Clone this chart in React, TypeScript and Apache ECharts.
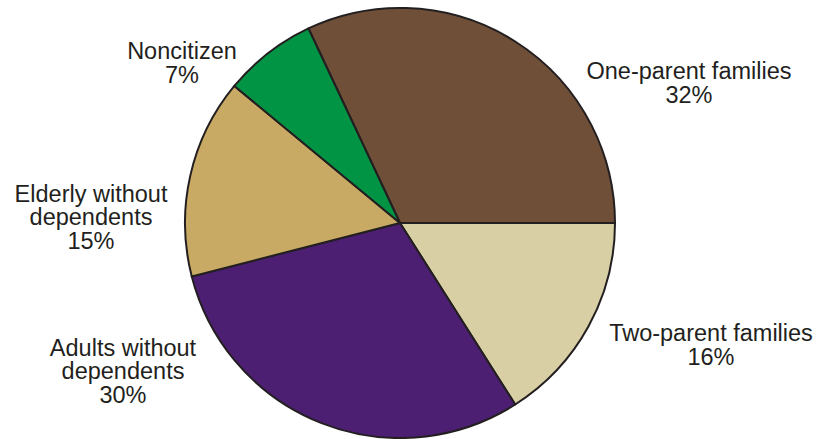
import React, { useEffect, useRef } from "react";
import * as echarts from "echarts";

const categories = [
  "One-parent families",
  "Two-parent families",
  "Adults without\ndependents",
  "Elderly without\ndependents",
  "Noncitizen",
];
const shares = [32, 16, 30, 15, 7];
const colors = ["#6F4F38", "#D9CFA5", "#4D1F73", "#C8AA64", "#009444"];

// label anchor points (layout only)
const labelPositions: [number, number][] = [
  [689, 83],
  [711, 345],
  [123, 371],
  [91, 217],
  [182, 63],
];

export default function App() {
  const ref = useRef<HTMLDivElement>(null);
  useEffect(() => {
    if (!ref.current) return;
    const chart = echarts.init(ref.current, undefined, { renderer: "svg" });
    chart.setOption({
      animation: false,
      backgroundColor: "#ffffff",
      series: [
        {
          type: "pie",
          center: [400, 223],
          radius: [0, 215],
          startAngle: 115.2,
          clockwise: true,
          avoidLabelOverlap: false,
          itemStyle: { borderColor: "#231F20", borderWidth: 2 },
          label: {
            show: true,
            position: "outside",
            formatter: (p: any) => `${p.name}\n${p.value}%`,
            fontFamily: "Liberation Sans, Arial, sans-serif",
            fontSize: 23.5,
            lineHeight: 23.5,
            color: "#231F20",
            align: "center",
          },
          labelLine: { show: false },
          labelLayout: (params: any) => {
            const p = labelPositions[params.dataIndex];
            return { x: p[0], y: p[1], align: "center", verticalAlign: "middle" };
          },
          emphasis: { disabled: true },
          data: categories.map((name, i) => ({
            name,
            value: shares[i],
            itemStyle: { color: colors[i] },
          })),
        },
      ],
    });
    return () => chart.dispose();
  }, []);
  return (
    <div
      ref={ref}
      style={{ position: "fixed", left: 0, top: 0, width: 830, height: 439 }}
    />
  );
}
